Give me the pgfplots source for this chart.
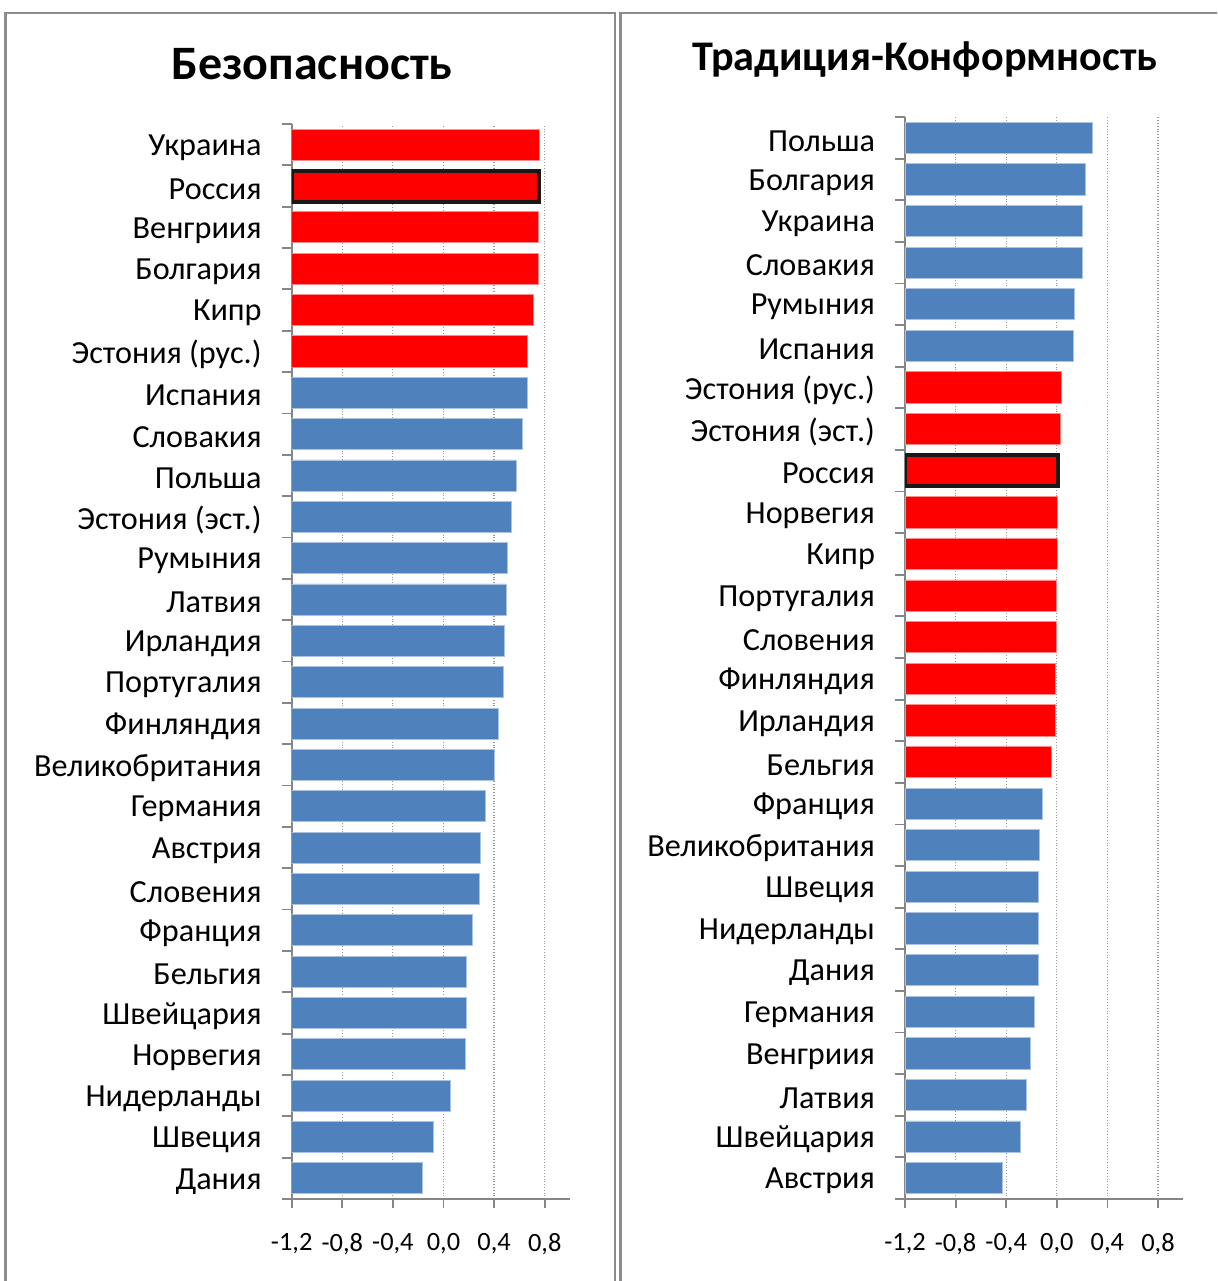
\documentclass[border=0pt]{standalone}
\usepackage{fontspec}
\setmainfont{Carlito}
\usepackage{pgfplots}
\pgfplotsset{compat=1.18}
\definecolor{barblue}{RGB}{79,129,189}
\definecolor{bluebord}{RGB}{170,195,225}
\definecolor{barred}{RGB}{255,0,0}
\definecolor{redbord}{RGB}{255,140,140}
\definecolor{framegray}{RGB}{140,140,140}
\definecolor{axgray}{RGB}{134,134,134}
\pgfplotsset{
 panel/.style={
  scale only axis, width=139.15pt,
  xbar, bar width=0.75, bar shift=0pt,
  xmin=0, xmax=2.2, ymin=-0.5, ymax=25.5,
  x filter/.expression={x+1.2},
  axis lines*=left,
  axis line style={axgray, line width=0.9pt},
  xtick={0,0.4,0.8,1.2,1.6,2.0},
  xticklabels={{-1,2},{-0,8},{-0,4},{0,0},{0,4},{0,8}},
  ytick={0,...,25},
  minor ytick={-0.5,0.5,...,25.5},
  tick align=outside,
  major tick length=4.5pt, minor tick length=5pt,
  major y tick style={draw=none},
  minor y tick style={axgray, line width=0.9pt},
  major x tick style={axgray, line width=0.9pt},
  xmajorgrids, major grid style={densely dotted, gray!80, line width=0.6pt},
  xticklabel style={font=\fontsize{13.2}{15}\selectfont, inner sep=0pt, yshift=-12.3pt},
  yticklabel style={font=\fontsize{16.1}{19}\selectfont, inner sep=0pt, xshift=-10.35pt, yshift=-1.5pt},
 },
 bluebar/.style={fill=barblue, draw=bluebord, line width=0.4pt},
 redbar/.style={fill=barred, draw=redbord, line width=0.4pt},
 rusbar/.style={fill=barred, draw=black!90, line width=2pt},
}
\begin{document}
\begin{tikzpicture}
\useasboundingbox (0,0) rectangle (608.5pt,640.5pt);
\clip (0,0) rectangle (608.5pt,640.5pt);
\draw[framegray, line width=1.3pt] (2.8pt,-10pt) rectangle (307.5pt,634pt);
\draw[framegray, line width=1.3pt] (310.2pt,-10pt) rectangle (640pt,634pt);
\node[font=\fontsize{24}{28}\selectfont\bfseries] at (156pt,608.5pt) {Безопасность};
\node[font=\fontsize{21.1}{25}\selectfont\bfseries] at (462.5pt,610.5pt) {Традиция-Конформность};

\begin{axis}[panel, at={(145.85pt,41pt)}, anchor=south west, height=537.5pt,
  yticklabels={Дания,Швеция,Нидерланды,Норвегия,Швейцария,Бельгия,Франция,Словения,Австрия,Германия,Великобритания,Финляндия,Португалия,Ирландия,Латвия,Румыния,Эстония (эст.),Польша,Словакия,Испания,Эстония (рус.),Кипр,Болгария,Венгриия,Россия,Украина}]
\addplot[bluebar] coordinates {(-0.166,0) (-0.082,1) (0.058,2) (0.171,3) (0.182,4) (0.182,5) (0.229,6) (0.282,7) (0.292,8) (0.332,9) (0.405,10) (0.432,11) (0.471,12) (0.484,13) (0.495,14) (0.503,15) (0.534,16) (0.574,17) (0.624,18) (0.666,19)};
\addplot[redbar] coordinates {(0.666,20) (0.708,21) (0.747,22) (0.747,23) (0.755,25)};
\addplot[rusbar] coordinates {(0.752,24)};
\end{axis}

\begin{axis}[panel, at={(452.5pt,41pt)}, anchor=south west, height=541pt,
  yticklabels={Австрия,Швейцария,Латвия,Венгриия,Германия,Дания,Нидерланды,Швеция,Великобритания,Франция,Бельгия,Ирландия,Финляндия,Словения,Португалия,Кипр,Норвегия,Россия,Эстония (эст.),Эстония (рус.),Испания,Румыния,Словакия,Украина,Болгария,Польша}]
\addplot[bluebar] coordinates {(-0.434,0) (-0.291,1) (-0.238,2) (-0.209,3) (-0.18,4) (-0.148,5) (-0.148,6) (-0.148,7) (-0.138,8) (-0.116,9) (0.129,20) (0.136,21) (0.2,22) (0.2,23) (0.228,24) (0.278,25)};
\addplot[redbar] coordinates {(-0.045,10) (-0.013,11) (-0.013,12) (-0.003,13) (-0.003,14) (0.005,15) (0.005,16) (0.026,18) (0.037,19)};
\addplot[rusbar] coordinates {(0.013,17)};
\end{axis}
\end{tikzpicture}
\end{document}
